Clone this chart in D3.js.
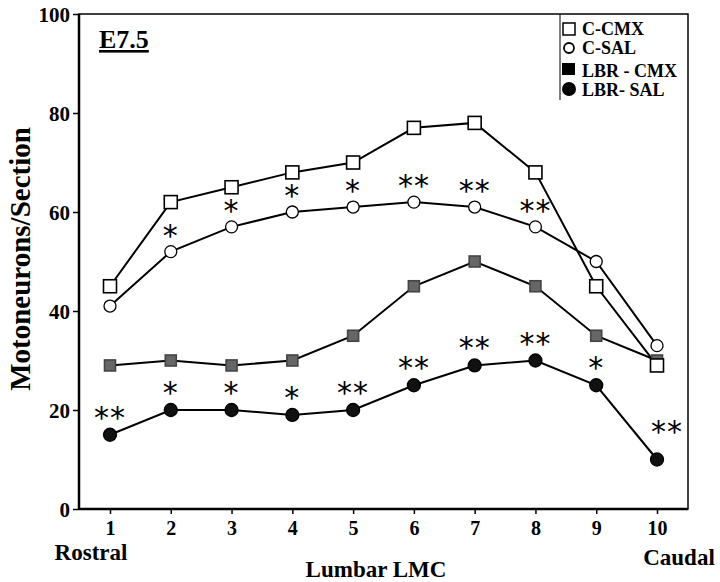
<!DOCTYPE html>
<html><head><meta charset="utf-8">
<script src="https://cdn.jsdelivr.net/npm/d3@7"></script>
<style>body{margin:0;background:#fff}svg{display:block}</style>
</head><body>
<svg id="chart" width="720" height="582"></svg>
<script>
const segments = [1,2,3,4,5,6,7,8,9,10];
const cCMX   = [45,62,65,68,70,77,78,68,45,29];
const cSAL   = [41,52,57,60,61,62,61,57,50,33];
const lbrCMX = [29,30,29,30,35,45,50,45,35,30];
const lbrSAL = [15,20,20,19,20,25,29,30,25,10];
const cSALStars   = ["","*","*","*","*","**","**","**","",""];
const lbrSALStars = ["**","*","*","*","**","**","**","**","*","**"];
const yTicks = [0,20,40,60,80,100];
const seriesNames = ["C-CMX","C-SAL","LBR - CMX","LBR- SAL"];

const svg = d3.select("#chart");
const font = "'Liberation Serif', 'DejaVu Serif', serif";
const L=79, R=688, T=14, B=509;
const x = d3.scaleLinear().domain([1,10]).range([110,657]);
const y = d3.scaleLinear().domain([0,100]).range([B,T]);

// axes
const yAxis = svg.append("g").attr("transform",`translate(${L},0)`)
  .call(d3.axisLeft(y).tickValues(yTicks).tickSize(6).tickPadding(3));
const xAxis = svg.append("g").attr("transform",`translate(0,${B})`)
  .call(d3.axisBottom(x).tickValues(segments).tickSize(5).tickPadding(6));
[yAxis,xAxis].forEach(g=>{
  g.select(".domain").remove();
  g.selectAll("line").attr("stroke","#000").attr("stroke-width",1.5);
  g.selectAll("text").attr("font-family",font).attr("font-weight","bold")
   .attr("font-size",21).attr("fill","#000");
});
yAxis.selectAll("text").attr("dy","0.35em");
xAxis.selectAll("text").attr("font-size",20).attr("dy","0.75em");

// frame
svg.append("rect").attr("x",L).attr("y",T).attr("width",R-L).attr("height",B-T)
  .attr("fill","none").attr("stroke","#000").attr("stroke-width",1.5);
svg.append("line").attr("x1",L).attr("x2",L).attr("y1",T).attr("y2",B).attr("stroke","#000").attr("stroke-width",2.5);
svg.append("line").attr("x1",L).attr("x2",R).attr("y1",B).attr("y2",B).attr("stroke","#000").attr("stroke-width",2.5);

// lines
const line = d3.line().x((d,i)=>x(segments[i])).y(d=>y(d));
[cCMX,cSAL,lbrCMX,lbrSAL].forEach(s=>{
  svg.append("path").datum(s).attr("d",line).attr("fill","none")
    .attr("stroke","#000").attr("stroke-width",2);
});

// markers
function squares(data, fill, stroke, size){
  svg.append("g").selectAll("rect").data(data).join("rect")
    .attr("x",(d,i)=>x(segments[i])-size/2).attr("y",d=>y(d)-size/2)
    .attr("width",size).attr("height",size)
    .attr("fill",fill).attr("stroke",stroke).attr("stroke-width",1.6);
}
function circles(data, fill, r){
  svg.append("g").selectAll("circle").data(data).join("circle")
    .attr("cx",(d,i)=>x(segments[i])).attr("cy",d=>y(d)).attr("r",r)
    .attr("fill",fill).attr("stroke","#000").attr("stroke-width",1.3);
}
squares(lbrCMX,"#666","#444",11);
circles(cSAL,"#fff",6);
squares(cCMX,"#fff","#000",13);
circles(lbrSAL,"#111",6.5);

// stars
function stars(labels, data, off){
  svg.append("g").selectAll("text").data(labels).join("text")
    .attr("x",(d,i)=>x(segments[i]) + (i===9 && data===lbrSAL ? 10 : 0))
    .attr("y",(d,i)=>y(data[i]) - off - (i===9 && data===lbrSAL ? 11 : 0))
    .attr("text-anchor","middle").attr("font-family","'DejaVu Sans', sans-serif")
    .attr("font-size",30).attr("fill","#000").attr("dy","0.6em")
    .attr("letter-spacing",1)
    .text(d=>d);
}
stars(cSALStars,cSAL,24);
stars(lbrSALStars,lbrSAL,25);

// title
svg.append("text").attr("x",99).attr("y",48).attr("font-family",font)
  .attr("font-weight","bold").attr("font-size",26).attr("text-decoration","underline")
  .text("E7.5");

// legend
const lg = svg.append("g");
lg.append("line").attr("x1",560).attr("x2",560).attr("y1",T).attr("y2",100).attr("stroke","#000").attr("stroke-width",1);
const ly = [29,48,71,90];
seriesNames.forEach((n,i)=>{
  lg.append("text").attr("x",582).attr("y",ly[i]).attr("dy","0.35em")
    .attr("font-family",font).attr("font-weight","bold").attr("font-size",18).text(n);
});
lg.append("rect").attr("x",563).attr("y",23).attr("width",12).attr("height",12).attr("fill","#fff").attr("stroke","#000").attr("stroke-width",1.5);
lg.append("circle").attr("cx",569).attr("cy",48).attr("r",5).attr("fill","#fff").attr("stroke","#000").attr("stroke-width",1.8);
lg.append("rect").attr("x",562).attr("y",63).attr("width",13).attr("height",12).attr("fill","#000");
lg.append("circle").attr("cx",569).attr("cy",89).attr("r",7).attr("fill","#000");

// axis titles
svg.append("text").attr("transform","translate(30,259) rotate(-90)")
  .attr("text-anchor","middle").attr("font-family",font).attr("font-weight","bold")
  .attr("font-size",29).text("Motoneurons/Section");
svg.append("text").attr("x",376).attr("y",577).attr("text-anchor","middle")
  .attr("font-family",font).attr("font-weight","bold").attr("font-size",23).text("Lumbar LMC");
svg.append("text").attr("x",91).attr("y",560).attr("text-anchor","middle")
  .attr("font-family",font).attr("font-weight","bold").attr("font-size",23).text("Rostral");
svg.append("text").attr("x",679).attr("y",565).attr("text-anchor","middle")
  .attr("font-family",font).attr("font-weight","bold").attr("font-size",23).text("Caudal");
</script>
</body></html>
